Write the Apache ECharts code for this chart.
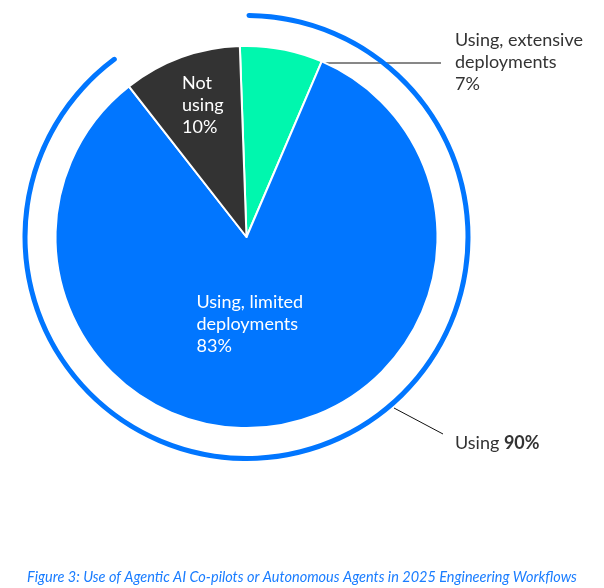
<!DOCTYPE html>
<html>
<head>
    <meta charset="utf-8">
    <script type="text/javascript" src="https://cdn.jsdelivr.net/npm/echarts@6/dist/echarts.min.js"></script>
    <style type="text/css">
        * {
            margin: 0;
            padding: 0;
        }
        html, body {
            background: #ffffff;
        }
        #container {
            width: 604px;
            height: 588px;
        }
    </style>
</head>
<body>
<div id="container"></div>

<script type="text/javascript">

    //饼图分类和数值
    var categories = ['Using, extensive\ndeployments', 'Using, limited\ndeployments', 'Not\nusing'];
    var shares = [7, 83, 10];
    //外圈：使用合计
    var ringNames = ['Using', 'rest'];
    var ringValues = [90, 10];
    var caption = 'Figure 3: Use of Agentic AI Co-pilots or Autonomous Agents in 2025 Engineering Workflows';

    var colors = ['#00F7AE', '#0176FF', '#333333'];
    var ringColor = '#0176FF';
    var textDark = '#333333';
    var font = 'Lato';

    var center = [246.5, 237];

    //标签位置 (左对齐, 垂直居中)
    var pieLabelPos = [
        {x: 455, y: 62.5, line: [[297, 63], [441, 63], [441, 63]]},
        {x: 196.5, y: 324},
        {x: 182, y: 105}
    ];
    var ringLabelPos = {x: 455, y: 443, line: [[394, 408], [443, 434], [443, 434]]};

    var pieData = [];
    for (var i = 0; i < shares.length; i++) {
        var inside = i > 0;
        pieData.push({
            name: categories[i],
            value: shares[i],
            itemStyle: {color: colors[i]},
            label: {
                position: inside ? 'inside' : 'outside',
                color: inside ? '#ffffff' : textDark
            },
            labelLine: {show: !inside}
        });
    }

    var ringData = [
        {name: ringNames[0], value: ringValues[0], itemStyle: {color: ringColor}},
        {name: ringNames[1], value: ringValues[1], itemStyle: {color: 'transparent'},
            label: {show: false}, labelLine: {show: false}}
    ];

    var myChart = echarts.init(document.getElementById('container'));
    var option = {
        animation: false,
        title: {
            text: caption,
            left: 'center',
            top: 565,
            textStyle: {
                color: '#1A7DFF',
                fontSize: 14.5,
                fontStyle: 'italic',
                fontWeight: 'normal',
                fontFamily: font
            }
        },
        series: [
            {
                type: 'pie',
                center: center,
                radius: 191,
                startAngle: 92,
                clockwise: true,
                silent: true,
                itemStyle: {
                    borderColor: '#ffffff',
                    borderWidth: 2
                },
                label: {
                    show: true,
                    fontFamily: font,
                    fontSize: 18,
                    lineHeight: 22,
                    align: 'left',
                    formatter: function (p) {
                        return p.name + '\n' + p.value + '%';
                    }
                },
                labelLine: {
                    lineStyle: {color: '#111111', width: 1}
                },
                labelLayout: function (p) {
                    var pos = pieLabelPos[p.dataIndex];
                    var res = {x: pos.x, y: pos.y, align: 'left', verticalAlign: 'middle'};
                    if (pos.line) {
                        res.labelLinePoints = pos.line;
                    }
                    return res;
                },
                data: pieData
            },
            {
                type: 'pie',
                center: center,
                radius: [219, 224],
                startAngle: 90,
                clockwise: true,
                silent: true,
                itemStyle: {
                    borderRadius: 3
                },
                label: {
                    show: true,
                    color: textDark,
                    fontFamily: font,
                    fontSize: 18,
                    formatter: function (p) {
                        return '{a|' + p.name + '} {b|' + p.value + '%}';
                    },
                    rich: {
                        a: {fontFamily: font, fontSize: 18, color: textDark},
                        b: {fontFamily: font, fontSize: 18, color: textDark, fontWeight: 'bold'}
                    }
                },
                labelLine: {
                    show: true,
                    lineStyle: {color: '#111111', width: 1}
                },
                labelLayout: function (p) {
                    if (p.dataIndex !== 0) {
                        return {};
                    }
                    return {
                        x: ringLabelPos.x,
                        y: ringLabelPos.y,
                        align: 'left',
                        verticalAlign: 'middle',
                        labelLinePoints: ringLabelPos.line
                    };
                },
                data: ringData
            }
        ]
    };
    myChart.setOption(option);

</script>
</body>
</html>
